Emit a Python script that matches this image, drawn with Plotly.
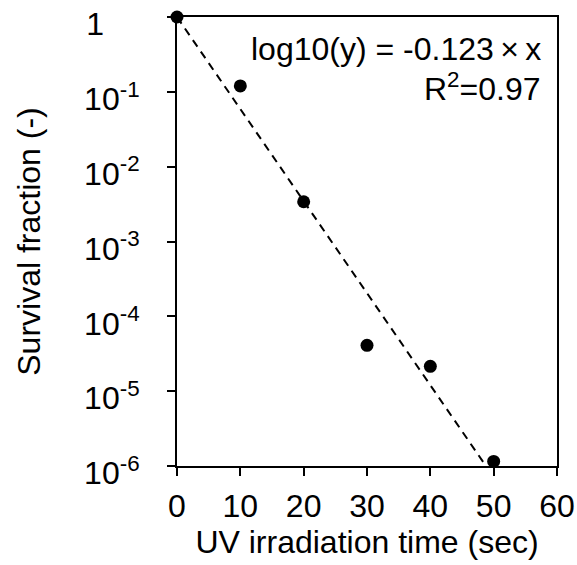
import plotly.graph_objects as go

# Data
time_sec = [0, 10, 20, 30, 40, 50]
survival = [1.0, 0.12, 0.0034, 4.1e-5, 2.15e-5, 1.15e-6]

slope = -0.123
r_squared = 0.97
fit_x = [0, 6 / 0.123]
fit_y = [10 ** (slope * x) for x in fit_x]

y_tickvals = [1, 1e-1, 1e-2, 1e-3, 1e-4, 1e-5, 1e-6]
y_ticktext = ["1" + "\u00a0" * 4, "10<sup>-1</sup>", "10<sup>-2</sup>", "10<sup>-3</sup>",
              "10<sup>-4</sup>", "10<sup>-5</sup>", "10<sup>-6</sup>"]
x_tickvals = [0, 10, 20, 30, 40, 50, 60]

FONT = "Liberation Sans, Arial, sans-serif"
FS = 32

fig = go.Figure()
fig.add_trace(go.Scatter(
    x=fit_x, y=fit_y, mode="lines",
    line=dict(color="black", width=2, dash="8px,6px"),
    showlegend=False, hoverinfo="skip", cliponaxis=False,
))
fig.add_trace(go.Scatter(
    x=time_sec, y=survival, mode="markers",
    marker=dict(color="black", size=13),
    showlegend=False, cliponaxis=False,
))

fig.update_layout(
    template="none",
    width=577, height=565,
    margin=dict(l=177, r=20, t=17, b=99, pad=0),
    paper_bgcolor="white", plot_bgcolor="white",
    font=dict(family=FONT, size=FS, color="black"),
    xaxis=dict(
        range=[0, 60], tickvals=x_tickvals, automargin=False,
        showline=True, linecolor="black", linewidth=2, mirror=True,
        ticks="outside", ticklen=8, tickwidth=2, tickcolor="black",
        showgrid=False, zeroline=False, ticklabeloverflow="allow",
        tickfont=dict(size=FS), ticklabelstandoff=3,
        title=dict(text="UV irradiation time (sec)", font=dict(size=FS), standoff=2),
    ),
    yaxis=dict(
        type="log", range=[-6, 0], automargin=False,
        tickvals=y_tickvals, ticktext=y_ticktext,
        showline=True, linecolor="black", linewidth=2, mirror=True,
        ticks="outside", ticklen=8, tickwidth=2, tickcolor="black",
        showgrid=False, zeroline=False, ticklabeloverflow="allow",
        tickfont=dict(size=FS), ticklabelstandoff=21, ticklabelshift=7,
        title=dict(text="Survival fraction (-)", font=dict(size=FS), standoff=34),
    ),
    annotations=[
        dict(xref="paper", yref="paper", x=0.963, y=0.9287, xanchor="right", yanchor="middle",
             text="log10(y) = -0.123\u2009\u00d7\u2009x", showarrow=False, font=dict(size=FS)),
        dict(xref="paper", yref="paper", x=0.963, y=0.843, xanchor="right", yanchor="middle",
             text="R<sup>2</sup>=0.97", showarrow=False, font=dict(size=FS)),
    ],
)

fig.write_html("out.html")
